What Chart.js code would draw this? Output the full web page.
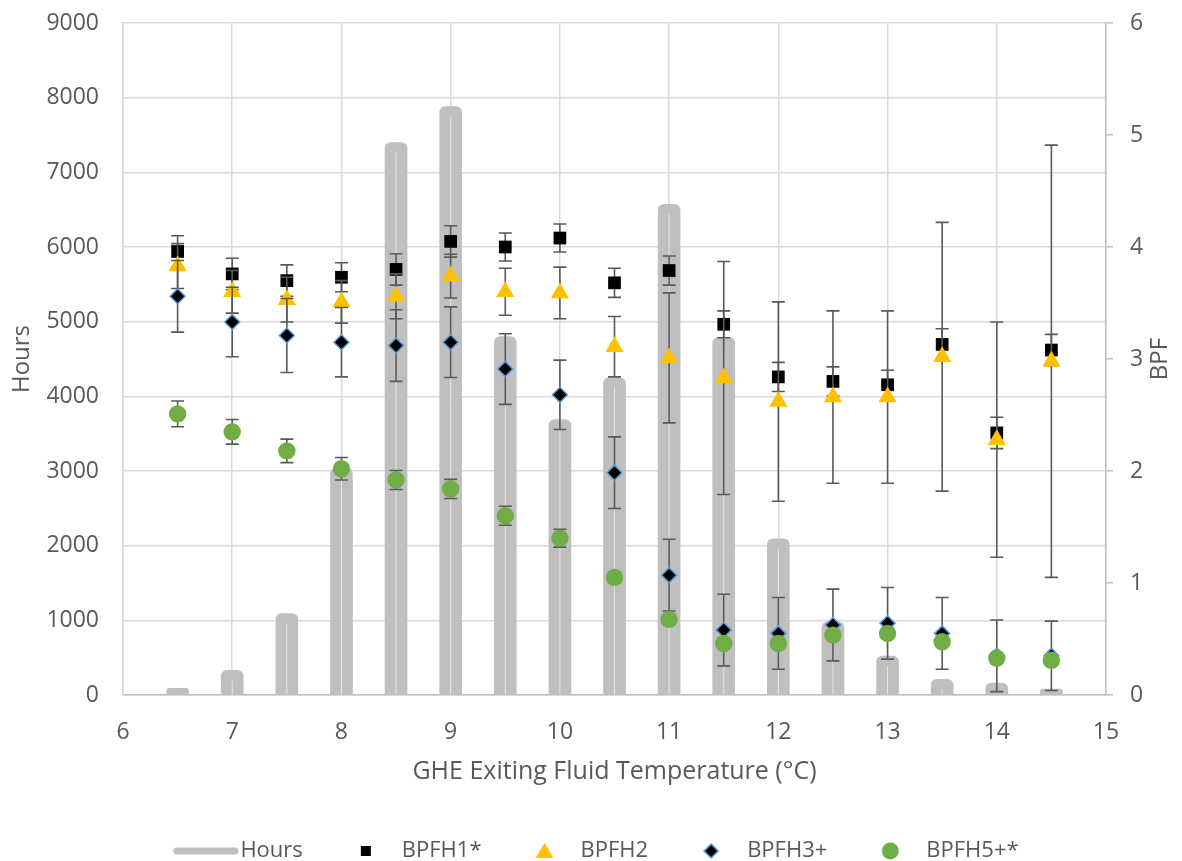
<!DOCTYPE html>
<html>
<head>
<meta charset="utf-8">
<script src="https://cdn.jsdelivr.net/npm/chart.js@4"></script>
<style>
  html, body { margin: 0; padding: 0; background: #fff; }
  canvas { display: block; }
</style>
</head>
<body>
<canvas id="chart" width="1182" height="861"></canvas>
<script>
// ── data ────────────────────────────────────────────────
const temps = [6.5, 7, 7.5, 8, 8.5, 9, 9.5, 10, 10.5, 11, 11.5, 12, 12.5, 13, 13.5, 14, 14.5];

const hours = [90, 330, 1090, 3040, 7400, 7880, 4800, 3690, 4250, 6570, 4790, 2090, 980, 520, 210, 160, 80];

const bpfh1    = [3.96, 3.76, 3.70, 3.73, 3.80, 4.05, 4.00, 4.08, 3.68, 3.79, 3.31, 2.84, 2.80, 2.77, 3.13, 2.34, 3.08];
const bpfh1Err = [0.14, 0.14, 0.14, 0.13, 0.14, 0.14, 0.125, 0.125, 0.13, 0.13, 0.12, 0.13, 0.13, 0.13, 0.14, 0.14, 0.14];

const bpfh2    = [3.83, 3.60, 3.53, 3.51, 3.56, 3.74, 3.60, 3.59, 3.11, 3.01, 2.83, 2.62, 2.66, 2.66, 3.02, 2.28, 2.98];
const bpfh2Err = [0.20, 0.19, 0.20, 0.19, 0.20, 0.195, 0.21, 0.23, 0.27, 0.58, 1.04, 0.89, 0.77, 0.77, 1.20, 1.05, 1.93];

const bpfh3    = [3.56, 3.33, 3.21, 3.15, 3.12, 3.15, 2.91, 2.68, 1.985, 1.07, 0.58, 0.55, 0.625, 0.64, 0.55, 0.35, 0.35];
const bpfh3Err = [0.32, 0.31, 0.33, 0.31, 0.32, 0.315, 0.315, 0.31, 0.32, 0.32, 0.32, 0.32, 0.32, 0.32, 0.32, 0.32, 0.31];

const bpfh5    = [2.51, 2.35, 2.18, 2.02, 1.92, 1.84, 1.60, 1.40, 1.05, 0.675, 0.46, 0.46, 0.535, 0.55, 0.475, 0.33, 0.31];
const bpfh5Err = [0.115, 0.11, 0.105, 0.10, 0.085, 0.085, 0.085, 0.08, 0.05, 0.04, 0.04, 0.04, 0.04, 0.04, 0.04, 0.04, 0.04];

const xTicks = { min: 6, max: 15, step: 1 };
const hoursTicks = { min: 0, max: 9000, step: 1000 };
const bpfTicks = { min: 0, max: 6, step: 1 };

// ── styles ──────────────────────────────────────────────
const FONT = "'Open Sans', sans-serif";
const TXT = "#595959";
const GRID = "#d9d9d9";
const AXIS = "#bfbfbf";
const BAR = "#bfbfbf";
const ERR = "#595959";

const pts = (ys) => temps.map((x, i) => ({ x, y: ys[i] }));

// legend icons (canvas point styles)
function icon(w, h, draw) {
  const c = document.createElement("canvas");
  c.width = w; c.height = h;
  draw(c.getContext("2d"));
  return c;
}
const MX = 44, MY = 10;
const legendIcons = [
  icon(100, 12, g => {
    g.strokeStyle = BAR; g.lineWidth = 7; g.lineCap = "round";
    g.beginPath(); g.moveTo(36.5, 6); g.lineTo(94.5, 6); g.stroke();
  }),
  icon(60, 20, g => { g.fillStyle = "#000"; g.fillRect(MX - 5, MY - 5, 10, 10); }),
  icon(60, 20, g => {
    g.fillStyle = "#ffc000"; g.beginPath();
    g.moveTo(MX, MY - 8); g.lineTo(MX + 9, MY + 7); g.lineTo(MX - 9, MY + 7); g.closePath(); g.fill();
  }),
  icon(60, 20, g => {
    g.fillStyle = "#000"; g.strokeStyle = "#5b9bd5"; g.lineWidth = 1.5; g.beginPath();
    g.moveTo(MX, MY - 7); g.lineTo(MX + 7, MY); g.lineTo(MX, MY + 7); g.lineTo(MX - 7, MY); g.closePath();
    g.fill(); g.stroke();
  }),
  icon(60, 20, g => {
    g.fillStyle = "#70ad47"; g.beginPath(); g.arc(MX, MY, 8.5, 0, Math.PI * 2); g.fill();
  }),
];

// ── plugins ─────────────────────────────────────────────
const errorBars = {
  id: "errorBars",
  beforeDatasetDraw(chart, args) {
    const ds = chart.data.datasets[args.index];
    if (!ds.errors) return;
    const ys = chart.scales[ds.yAxisID];
    const ctx = chart.ctx;
    const a = chart.chartArea;
    ctx.save();
    ctx.beginPath(); ctx.rect(a.left, a.top, a.right - a.left, a.bottom - a.top); ctx.clip();
    ctx.strokeStyle = ERR; ctx.lineWidth = 1.6;
    args.meta.data.forEach((el, i) => {
      const v = ds.data[i].y, e = ds.errors[i];
      const t = ys.getPixelForValue(v + e), b = ys.getPixelForValue(v - e);
      ctx.beginPath();
      ctx.moveTo(el.x, t); ctx.lineTo(el.x, b);
      ctx.moveTo(el.x - 6.5, t); ctx.lineTo(el.x + 6.5, t);
      ctx.moveTo(el.x - 6.5, b); ctx.lineTo(el.x + 6.5, b);
      ctx.stroke();
    });
    ctx.restore();
  },
};

const barStripe = {
  id: "barStripe",
  afterDatasetDraw(chart, args) {
    if (args.index !== 0) return;
    const ctx = chart.ctx;
    ctx.save();
    ctx.strokeStyle = "rgba(255,255,255,0.6)"; ctx.lineWidth = 1;
    args.meta.data.forEach(el => {
      if (el.base - el.y < 14) return;
      ctx.beginPath(); ctx.moveTo(el.x, el.y + 10); ctx.lineTo(el.x, el.base); ctx.stroke();
    });
    ctx.restore();
  },
};

// legend sits a few px left of centre in the reference
const legendNudge = {
  id: "legendNudge",
  afterLayout(chart) {
    const lg = chart.legend;
    if (lg) { lg.left -= 6; lg.right -= 6; }
  },
};

const rightTitle = {
  id: "rightTitle",
  afterDraw(chart) {
    const a = chart.chartArea;
    const ctx = chart.ctx;
    ctx.save();
    ctx.translate(1160, (a.top + a.bottom) / 2);
    ctx.rotate(-Math.PI / 2);
    ctx.font = `24px ${FONT}`;
    ctx.fillStyle = TXT; ctx.textAlign = "center"; ctx.textBaseline = "middle";
    ctx.fillText("BPF", 0, 0);
    ctx.restore();
  },
};

// fixed box sizes, no extra label padding pushed into the layout
const fixBox = (w, h) => (s) => {
  if (w != null) s.width = w;
  if (h != null) s.height = h;
  s.paddingTop = 0; s.paddingBottom = 0; s.paddingLeft = 0; s.paddingRight = 0;
};

// ── chart ───────────────────────────────────────────────
const scatter = (label, data, errors, style, order) => Object.assign({
  type: "scatter", label, data: pts(data), errors, yAxisID: "y1", order, showLine: false,
}, style);

new Chart(document.getElementById("chart"), {
  type: "scatter",
  data: {
    datasets: [
      {
        type: "bar", label: "Hours", data: pts(hours), yAxisID: "y", order: 5,
        backgroundColor: BAR, barThickness: 22,
        borderRadius: { topLeft: 6, topRight: 6, bottomLeft: 0, bottomRight: 0 },
        borderSkipped: "start",
      },
      scatter("BPFH1*", bpfh1, bpfh1Err, {
        pointStyle: "rect", pointRadius: 9, backgroundColor: "#000", borderWidth: 0,
      }, 4),
      scatter("BPFH2", bpfh2, bpfh2Err, {
        pointStyle: "triangle", pointRadius: 10.5, backgroundColor: "#ffc000", borderWidth: 0,
      }, 3),
      scatter("BPFH3+", bpfh3, bpfh3Err, {
        pointStyle: "rectRot", pointRadius: 7.5, backgroundColor: "#000",
        borderColor: "#5b9bd5", borderWidth: 1.5,
      }, 2),
      scatter("BPFH5+*", bpfh5, bpfh5Err, {
        pointStyle: "circle", pointRadius: 8.7, backgroundColor: "#70ad47", borderWidth: 0,
      }, 1),
    ],
  },
  options: {
    responsive: false,
    animation: false,
    layout: { padding: { top: 23, left: 0, right: 0, bottom: 0 } },
    font: { family: FONT },
    scales: {
      x: {
        type: "linear", min: xTicks.min, max: xTicks.max, offset: false,
        ticks: { stepSize: xTicks.step, color: TXT, font: { size: 23, family: FONT }, padding: 24 },
        grid: { color: GRID, lineWidth: 1.5, drawTicks: false, offset: false },
        border: { color: AXIS, width: 1.5 },
        title: {
          display: true, text: "GHE Exiting Fluid Temperature (°C)", color: TXT,
          font: { size: 25, family: FONT }, padding: { top: 0, bottom: 43 },
        },
        afterFit: fixBox(null, 135),
      },
      y: {
        position: "left", min: hoursTicks.min, max: hoursTicks.max,
        ticks: { stepSize: hoursTicks.step, color: TXT, font: { size: 23, family: FONT }, padding: 24,
                 callback: v => String(v) },
        grid: { color: GRID, lineWidth: 1.5, drawTicks: false },
        border: { color: GRID, width: 1.5 },
        title: { display: true, text: "Hours", color: TXT, font: { size: 24, family: FONT },
                 padding: { top: 8, bottom: 0 } },
        afterFit: fixBox(123, null),
      },
      y1: {
        position: "right", min: bpfTicks.min, max: bpfTicks.max,
        ticks: { stepSize: bpfTicks.step, color: TXT, font: { size: 23, family: FONT }, padding: 17 },
        grid: { drawOnChartArea: false, drawTicks: true, tickLength: 7, color: AXIS, lineWidth: 1.5 },
        border: { color: AXIS, width: 1.5 },
        afterFit: fixBox(76, null),
      },
    },
    plugins: {
      tooltip: { enabled: false },
      legend: {
        position: "bottom",
        maxHeight: 31,
        labels: {
          usePointStyle: true,
          pointStyleWidth: 78,
          padding: 10,
          color: TXT,
          font: { size: 22, family: FONT },
          generateLabels(chart) {
            return chart.data.datasets.map((ds, i) => ({
              text: ds.label, pointStyle: legendIcons[i], datasetIndex: i,
              fillStyle: "transparent", strokeStyle: "transparent", lineWidth: 0,
              hidden: false, fontColor: TXT,
            }));
          },
        },
      },
    },
  },
  plugins: [errorBars, barStripe, legendNudge, rightTitle],
});
</script>
</body>
</html>
